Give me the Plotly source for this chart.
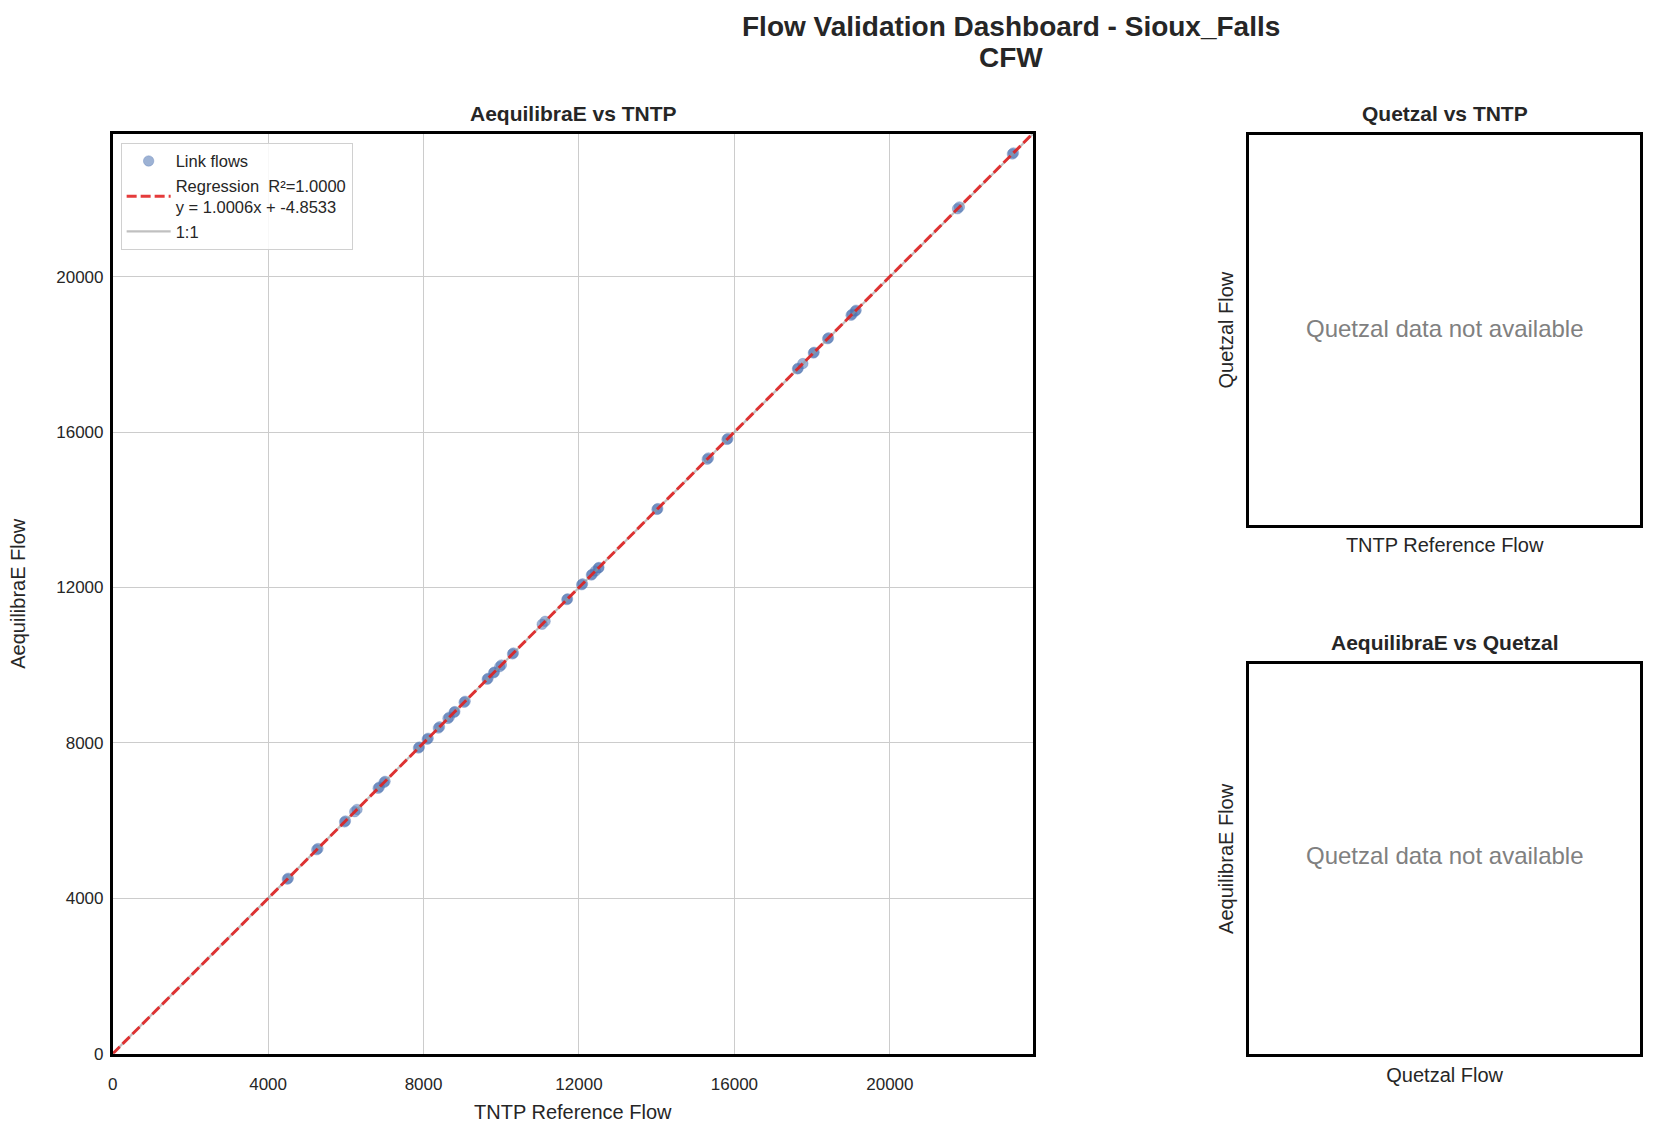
"""Flow validation dashboard (Sioux Falls, CFW) redrawn with Plotly."""

import plotly.graph_objects as go

# link flows
tntp_flow = [4494, 4519, 5251, 5283, 5967, 5991, 6229, 6288, 6832, 6862, 6983, 7010,
             7868, 7893, 8094, 8119, 8380, 8412, 8628, 8662, 8787, 8806, 9044, 9071,
             9638, 9660, 9803, 9822, 9961, 10003, 10289, 10312, 11053, 11128, 11687, 11706,
             12068, 12091, 12318, 12341, 12424, 12499, 12514, 14006, 14028, 15299, 15331,
             15808, 15832, 17622, 17640, 17760, 18031, 18050, 18398, 18421, 19002, 19030,
             19108, 19132, 21741, 21789, 23152, 23180]
aeq_flow = [4492, 4516, 5249, 5281, 5966, 5990, 6229, 6288, 6832, 6862, 6983, 7010,
            7868, 7893, 8094, 8119, 8381, 8413, 8629, 8663, 8788, 8807, 9045, 9072,
            9639, 9661, 9804, 9823, 9963, 10005, 10291, 10314, 11055, 11130, 11689, 11708,
            12071, 12094, 12321, 12344, 12427, 12502, 12517, 14010, 14032, 15304, 15336,
            15812, 15837, 17628, 17646, 17766, 18037, 18056, 18404, 18427, 19009, 19037,
            19115, 19139, 21750, 21798, 23161, 23189]

reg_slope = 1.0006
reg_intercept = -4.8533
reg_r2 = 1.0000

axis_max = 23680
tick_vals = [0, 4000, 8000, 12000, 16000, 20000]
tick_text = ["0", "4000", "8000", "12000", "16000", "20000"]

W, H = 1655, 1136
FONT = "Liberation Sans, Arial, sans-serif"
TXT = "#262626"


def px(v):
    return v / W


def py(v):
    return 1 - v / H


fig = go.Figure()

fig.add_trace(go.Scatter(
    x=tntp_flow, y=aeq_flow, mode="markers", name="Link flows", legendrank=1,
    marker=dict(size=10.5, color="rgba(76,114,176,0.55)",
                line=dict(width=1, color="rgba(76,114,176,0.3)")),
))
line_x = [0, axis_max]
fig.add_trace(go.Scatter(
    x=line_x, y=line_x, mode="lines", name="1:1", legendrank=3,
    line=dict(color="rgba(150,150,150,0.6)", width=2.2),
))
fig.add_trace(go.Scatter(
    x=line_x, y=[reg_slope * v + reg_intercept for v in line_x], mode="lines",
    name=f"Regression  R²={reg_r2:.4f}<br>y = {reg_slope:.4f}x + {reg_intercept:.4f}",
    legendrank=2,
    line=dict(color="rgba(225,25,25,0.85)", width=3, dash="10px,4px"),
))

frame = dict(showline=True, linecolor="black", linewidth=2.5, mirror=True,
             zeroline=False, ticks="")
main_axis = dict(range=[0, axis_max], tickvals=tick_vals, ticktext=tick_text,
                 showgrid=True, gridcolor="#cccccc", gridwidth=1.3,
                 tickfont=dict(size=17, color=TXT), **frame)
empty_axis = dict(range=[0, 1], showgrid=False, showticklabels=False, **frame)

fig.update_layout(
    width=W, height=H,
    margin=dict(l=0, r=0, t=0, b=0),
    paper_bgcolor="white", plot_bgcolor="white",
    font=dict(family=FONT, color=TXT),
    showlegend=True,
    legend=dict(x=px(116), y=py(144), xanchor="left", yanchor="top",
                bgcolor="rgba(255,255,255,0.85)", bordercolor="#d0d0d0", borderwidth=1,
                font=dict(size=16.5, color=TXT), tracegroupgap=0, itemwidth=44),
    xaxis=dict(domain=[px(108), px(1031)], anchor="y", ticklabelstandoff=13,
               title=dict(text="TNTP Reference Flow", font=dict(size=20), standoff=13),
               **main_axis),
    yaxis=dict(domain=[py(1063), py(135)], anchor="x", ticklabelstandoff=3,
               title=dict(text="AequilibraE Flow", font=dict(size=20), standoff=26),
               **main_axis),
    xaxis2=dict(domain=[px(1248), px(1640)], anchor="y2",
                title=dict(text="TNTP Reference Flow", font=dict(size=20), standoff=11),
                **empty_axis),
    yaxis2=dict(domain=[py(530), py(136)], anchor="x2",
                title=dict(text="Quetzal Flow", font=dict(size=20), standoff=8),
                **empty_axis),
    xaxis3=dict(domain=[px(1248), px(1640)], anchor="y3",
                title=dict(text="Quetzal Flow", font=dict(size=20), standoff=13),
                **empty_axis),
    yaxis3=dict(domain=[py(1063), py(670)], anchor="x3",
                title=dict(text="AequilibraE Flow", font=dict(size=20), standoff=8),
                **empty_axis),
)

# empty traces so the two Quetzal panels get drawn
for i in (2, 3):
    fig.add_trace(go.Scatter(x=[], y=[], xaxis=f"x{i}", yaxis=f"y{i}", showlegend=False))

notes = [
    ("Flow Validation Dashboard - Sioux_Falls", 1009, 27, 28, "bold", TXT),
    ("CFW", 1009, 58, 28, "bold", TXT),
    ("AequilibraE vs TNTP", 570, 115, 21, "bold", TXT),
    ("Quetzal vs TNTP", 1444, 115, 21, "bold", TXT),
    ("AequilibraE vs Quetzal", 1444, 648, 21, "bold", TXT),
    ("Quetzal data not available", 1444, 331, 24, "normal", "#808080"),
    ("Quetzal data not available", 1444, 863, 24, "normal", "#808080"),
]
for text, x, y, size, weight, color in notes:
    fig.add_annotation(text=text, x=px(x), y=py(y), xref="paper", yref="paper",
                       xanchor="center", yanchor="middle", showarrow=False,
                       font=dict(size=size, weight=weight, color=color, family=FONT))

fig.write_html(
    "out.html",
    config={"displayModeBar": False},
    post_script="document.body.style.margin='0';document.body.style.overflow='hidden';",
)
